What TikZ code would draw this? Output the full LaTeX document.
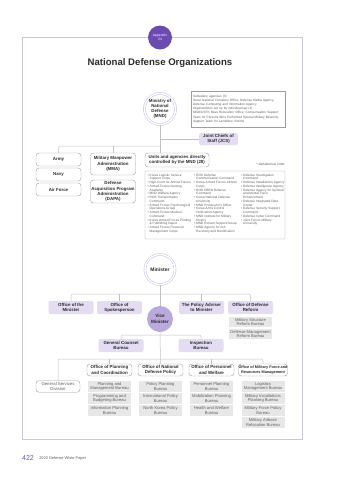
\documentclass[tikz,border=0pt]{standalone}
\usepackage{fontspec}
\setmainfont{Liberation Sans}
\definecolor{apppurple}{HTML}{6B4BAF}
\definecolor{framecol}{HTML}{CAC6DE}
\definecolor{conncol}{HTML}{C2C2C2}
\definecolor{boxline}{HTML}{9C9C9C}
\definecolor{lavender}{HTML}{E3DCF2}
\definecolor{vicefill}{HTML}{BBA8DC}
\definecolor{ringcol}{HTML}{D0C7E6}
\definecolor{bureaugray}{HTML}{E7E7E7}
\definecolor{textdark}{HTML}{2B2B2B}
\definecolor{textgray}{HTML}{5E5E5E}
\definecolor{pagenum}{HTML}{5C5CA3}
\newcommand\li{\textbullet\ }
\newcommand\lc{\phantom{\textbullet\ }}
\begin{document}
\begin{tikzpicture}[
x=1pt, y=-1pt,
every node/.style={align=center, inner sep=0pt, text=textdark},
conn/.style={draw=conncol, line width=0.5pt, rounded corners=2pt},
box/.style={draw=boxline, line width=0.4pt, rounded corners=3pt, fill=white, minimum width=45pt, minimum height=13pt, font=\bfseries\fontsize{4.4}{5.2}\selectfont},
lbox/.style={fill=lavender, rounded corners=2pt, minimum width=45pt, minimum height=13pt, font=\bfseries\fontsize{4.4}{5.2}\selectfont},
bureau/.style={fill=bureaugray, minimum width=43pt, minimum height=10.5pt, text=textgray, font=\fontsize{4.1}{4.8}\selectfont},
ring/.style={circle, draw=ringcol, line width=0.6pt, double=white, double distance=1.4pt, fill=white, font=\bfseries\fontsize{4.4}{5.2}\selectfont},
small/.style={text=textgray, align=left, font=\fontsize{3.2}{3.75}\selectfont}
]
\useasboundingbox (0,0) rectangle (351,480);
\draw[framecol, line width=0.6pt] (22,37.5) rectangle (302,439);
\node[circle, fill=apppurple, minimum size=24pt, text=white, font=\fontsize{3.4}{4.2}\selectfont] (app) at (160,37.5) {Appendix\\24};
\node[font=\bfseries\fontsize{9.6}{11}\selectfont] (title) at (160,63) {National Defense Organizations};

\node[ring, minimum size=31pt] (mnd) at (160,109) {Ministry of\\National\\Defense\\(MND)};
\node[draw=boxline, line width=0.3pt, minimum width=94pt, minimum height=36pt, text width=90pt, small, font=\fontsize{3.2}{4.1}\selectfont] (info) at (238,109) {Subsidiary agencies (3)\\Seoul National Cemetery Office, Defense Media Agency,\\Defense Computing and Information Agency\\Organizations set up by individual law (3)\\MND/USFK Base Relocation Office, Compensation Support\\Team for Persons Who Performed Special Military Missions,\\Support Team for Landmine Victims};
\node[lbox, minimum width=39pt, minimum height=12pt] (jcs) at (218.5,139) {Joint Chiefs of\\Staff (JCS)};

\node[box] (army) at (58.5,159.5) {Army};
\node[box] (navy) at (58.5,174.5) {Navy};
\node[box] (airforce) at (58.5,189.5) {Air Force};
\node[box, minimum height=22pt] (mma) at (113,164) {Military Manpower\\Administration\\(MMA)};
\node[box, minimum height=23pt] (dapa) at (113,191.5) {Defense\\Acquisition Program\\Administration\\(DAPA)};
\node[box, minimum width=64pt, minimum height=14pt] (units) at (177,160) {Units and agencies directly\\controlled by the MND (28)};
\node[small, anchor=east, font=\fontsize{3.3}{4}\selectfont] (order) at (285,164.5) {* alphabetical order};
\node[draw=boxline, line width=0.3pt, rounded corners=1pt, minimum width=140pt, minimum height=68pt] (list) at (215,205) {};
\node[small, anchor=north west] (col1) at (147.5,173.5) {\li Korea Logistic Service\\\lc Support Corps\\\li High Court for Armed Forces\\\li Armed Forces Nursing\\\lc Academy\\\li MND Welfare Agency\\\li ROK Transportation\\\lc Command\\\li Armed Forces Psychological\\\lc Operations Group\\\li Armed Forces Medical\\\lc Command\\\li Korea Armed Forces Printing\\\lc \& Publishing Depot\\\li Armed Forces Financial\\\lc Management Corps};
\node[small, anchor=north west] (col2) at (194,173.5) {\li ROK Defense\\\lc Communication Command\\\li Korea Armed Forces Athletic\\\lc Corps\\\li ROK CBRN Defense\\\lc Command\\\li Korea National Defense\\\lc University\\\li MND Prosecutor's Office\\\li Korea Arms Control\\\lc Verification Agency\\\li MND Institute for Military\\\lc History\\\li MND Korean Support Group\\\li MND Agency for KIA\\\lc Recovery and Identification};
\node[small, anchor=north west] (col3) at (241,173.5) {\li Defense Investigation\\\lc Command\\\li Defense Installations Agency\\\li Defense Intelligence Agency\\\li Defense Agency for Spiritual\\\lc and Mental Force\\\lc Enhancement\\\li Defense Integrated Data\\\lc Center\\\li Defense Security Support\\\lc Command\\\li Defense Cyber Command\\\li Joint Forces Military\\\lc University};

\coordinate (busA) at (160,146);
\draw[conn] (mnd.south) -- (mnd.south |- units.north);
\draw[conn] (mnd.south |- jcs.west) -- (jcs.west);
\draw[conn] (army.north) |- (busA);
\draw[conn] (mma.north) -- (mma.north |- busA);

\node[ring, minimum size=30pt, font=\bfseries\fontsize{5}{6}\selectfont] (minister) at (160,269.5) {Minister};
\node[lbox] (ofmin) at (71,307.5) {Office of the\\Minister};
\node[lbox] (spokes) at (119.5,307.5) {Office of\\Spokesperson};
\node[lbox] (adviser) at (201.5,307.5) {The Policy Adviser\\to Minister};
\node[lbox] (reform) at (250.5,307.5) {Office of Defense\\Reform};
\node[circle, fill=vicefill, minimum size=26pt, font=\bfseries\fontsize{4.6}{5.4}\selectfont] (vice) at (160,319) {Vice\\Minister};
\node[bureau] (msrb) at (250.5,322) {Military Structure\\Reform Bureau};
\node[bureau] (dmrb) at (250.5,334) {Defense Management\\Reform Bureau};
\node[lbox] (counsel) at (121,345.5) {General Counsel\\Bureau};
\node[lbox] (inspect) at (201,345.5) {Inspection\\Bureau};

\node[box, minimum width=44pt, minimum height=11.5pt, text=textgray, font=\fontsize{4.3}{5}\selectfont] (gsd) at (58,386.5) {General Services\\Division};
\node[box, minimum height=12pt] (ofpc) at (109.5,370) {Office of Planning\\and Coordination};
\node[box, minimum height=12pt] (ondp) at (160.5,370) {Office of National\\Defense Policy};
\node[box, minimum height=12pt] (opw) at (211.5,370) {Office of Personnel\\and Welfare};
\node[box, minimum height=12pt, font=\bfseries\fontsize{3.8}{5}\selectfont] (ofmr) at (263,370) {Office of Military Force and\\Resources Management};

\node[bureau] (pmb) at (109.5,386.5) {Planning and\\Management Bureau};
\node[bureau] (pbb) at (109.5,398.5) {Programming and\\Budgeting Bureau};
\node[bureau] (ipb) at (109.5,410.5) {Information Planning\\Bureau};
\node[bureau] (ppb) at (160.5,386.5) {Policy Planning\\Bureau};
\node[bureau] (intb) at (160.5,398.5) {International Policy\\Bureau};
\node[bureau] (nkpb) at (160.5,410.5) {North Korea Policy\\Bureau};
\node[bureau] (perb) at (211.5,386.5) {Personnel Planning\\Bureau};
\node[bureau] (mobb) at (211.5,398.5) {Mobilization Planning\\Bureau};
\node[bureau] (hwb) at (211.5,410.5) {Health and Welfare\\Bureau};
\node[bureau] (lmb) at (263,386.5) {Logistics\\Management Bureau};
\node[bureau] (mipb) at (263,398.5) {Military Installations\\Planning Bureau};
\node[bureau] (mfpb) at (263,410.5) {Military Force Policy\\Bureau};
\node[bureau] (marb) at (263,422.5) {Military Airbase\\Relocation Bureau};

\coordinate (busB) at (160,294);
\coordinate (busC) at (160,335);
\coordinate (busD) at (160,359);
\draw[conn] (minister.south) -- (vice.north);
\draw[conn] (ofmin.north) |- (busB) -| (reform.north);
\draw[conn] (spokes.north) -- (spokes.north |- busB);
\draw[conn] (adviser.north) -- (adviser.north |- busB);
\draw[conn] (vice.south) -- (ondp.north);
\draw[conn] (counsel.north) |- (busC) -| (inspect.north);
\draw[conn] (gsd.north) |- (busD) -| (ofmr.north);
\draw[conn] (ofpc.north) -- (ofpc.north |- busD);
\draw[conn] (opw.north) -- (opw.north |- busD);

\node[anchor=west, text=pagenum, font=\fontsize{7}{8}\selectfont] (page) at (22,458.5) {422};
\node[anchor=west, text=textgray, font=\fontsize{3.9}{4.5}\selectfont] (book) at (page.east) {\hspace{5pt}2020 Defense White Paper};
\end{tikzpicture}
\end{document}
